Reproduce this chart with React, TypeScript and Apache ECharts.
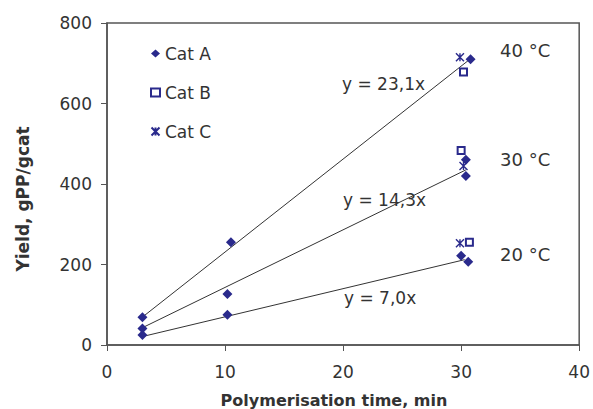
import React, { useEffect, useRef } from "react";
import * as echarts from "echarts";

const catA: [number, number][] = [
  [3, 69], [3, 41], [3, 25],
  [10.5, 255], [10.2, 127], [10.2, 75],
  [30.8, 710], [30.4, 460], [30.4, 420], [30.0, 222], [30.6, 207],
];
const catB: [number, number][] = [
  [30.2, 678], [30.0, 483], [30.7, 255],
];
const catC: [number, number][] = [
  [29.9, 715], [30.2, 445], [29.9, 253],
];
const trend40: [number, number][] = [[3, 69.3], [30.7, 709]];
const trend30: [number, number][] = [[3, 42.9], [30.4, 435]];
const trend20: [number, number][] = [[3, 21], [30.3, 212]];
const xTicks = [0, 10, 20, 30, 40];
const yTicks = [0, 200, 400, 600, 800];
const annotations = ["y = 23,1x", "y = 14,3x", "y = 7,0x", "40 °C", "30 °C", "20 °C"];
const xTitle = "Polymerisation time, min";
const yTitle = "Yield, gPP/gcat";

const NAVY = "#2A2A8C";
const FONT = "DejaVu Sans, Verdana, sans-serif";
const TXT = "#333";
const STAR = "path://M0,0L10,10M10,0L0,10M5,0L5,10";

export default function App() {
  const ref = useRef<HTMLDivElement>(null);
  useEffect(() => {
    if (!ref.current) return;
    const chart = echarts.init(ref.current, undefined, { renderer: "svg" });
    const trendStyle = {
      type: "line" as const,
      showSymbol: false,
      symbol: "none",
      lineStyle: { color: "#333", width: 1 },
      z: 1,
      silent: true,
    };
    const ts = { fontFamily: FONT, fontSize: 17, fill: TXT, verticalAlign: "middle" as const };
    chart.setOption({
      animation: false,
      backgroundColor: "#fff",
      grid: { left: 107, right: 13, top: 23, bottom: 64, show: true, borderColor: "#555", borderWidth: 1.5 },
      legend: {
        data: ["Cat A", "Cat B", "Cat C"],
        orient: "vertical",
        left: 145,
        top: 40,
        itemGap: 22,
        itemWidth: 9,
        itemHeight: 8,
        textStyle: { fontFamily: FONT, fontSize: 17, color: TXT },
      },
      xAxis: {
        type: "value",
        min: xTicks[0],
        max: xTicks[xTicks.length - 1],
        interval: 10,
        axisLine: { lineStyle: { color: "#555", width: 1.5 } },
        axisTick: { show: true, length: 6, lineStyle: { color: "#555" } },
        axisLabel: { fontFamily: FONT, fontSize: 17, color: TXT, margin: 18 },
        splitLine: { show: false },
      },
      yAxis: {
        type: "value",
        min: yTicks[0],
        max: yTicks[yTicks.length - 1],
        interval: 200,
        axisLine: { lineStyle: { color: "#555", width: 1.5 } },
        axisTick: { show: true, length: 6, lineStyle: { color: "#555" } },
        axisLabel: { fontFamily: FONT, fontSize: 17, color: TXT, margin: 15 },
        splitLine: { show: false },
      },
      series: [
        { ...trendStyle, name: "t40", data: trend40 },
        { ...trendStyle, name: "t30", data: trend30 },
        { ...trendStyle, name: "t20", data: trend20 },
        {
          name: "Cat A", type: "scatter", data: catA, symbol: "diamond", symbolSize: 10,
          itemStyle: { color: NAVY, opacity: 1 }, z: 3,
        },
        {
          name: "Cat B", type: "scatter", data: catB, symbol: "emptyRect", symbolSize: 7,
          itemStyle: { color: NAVY, borderColor: NAVY, borderWidth: 1, opacity: 1 }, z: 3,
        },
        {
          name: "Cat C", type: "scatter", data: catC, symbol: STAR, symbolSize: 8,
          itemStyle: { color: "rgba(0,0,0,0)", borderColor: NAVY, borderWidth: 1.4, opacity: 1 }, z: 4,
        },
      ],
      graphic: [
        { type: "text", x: 342, y: 84, style: { ...ts, text: annotations[0] } },
        { type: "text", x: 343, y: 200, style: { ...ts, text: annotations[1] } },
        { type: "text", x: 344, y: 298, style: { ...ts, text: annotations[2] } },
        { type: "text", x: 500, y: 50, style: { ...ts, fontSize: 18, text: annotations[3] } },
        { type: "text", x: 500, y: 159, style: { ...ts, fontSize: 18, text: annotations[4] } },
        { type: "text", x: 500, y: 254, style: { ...ts, fontSize: 18, text: annotations[5] } },
        {
          type: "text", x: 334, y: 400,
          style: { ...ts, fontSize: 16, fontWeight: "bold", align: "center", text: xTitle },
        },
        {
          type: "text", x: 23, y: 199, rotation: Math.PI / 2,
          style: { ...ts, fontSize: 17, fontWeight: "bold", align: "center", text: yTitle },
        },
      ],
    });
    return () => chart.dispose();
  }, []);
  return <div ref={ref} style={{ width: 593, height: 409, position: "absolute", left: 0, top: 0 }} />;
}
